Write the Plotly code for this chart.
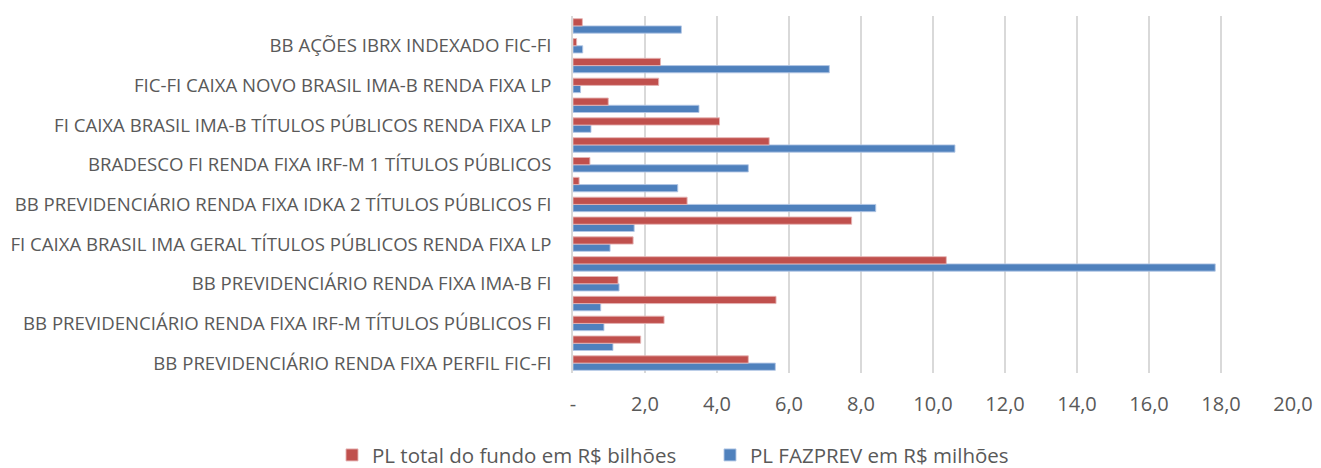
import plotly.graph_objects as go

# Category positions listed bottom-up (index 0 = bottom row)
tick_positions = [0, 2, 4, 6, 8, 10, 12, 14, 16]
tick_labels = [
    "BB PREVIDENCIÁRIO RENDA FIXA PERFIL FIC-FI",
    "BB PREVIDENCIÁRIO RENDA FIXA IRF-M TÍTULOS PÚBLICOS FI",
    "BB PREVIDENCIÁRIO RENDA FIXA IMA-B FI",
    "FI CAIXA BRASIL IMA GERAL TÍTULOS PÚBLICOS RENDA FIXA LP",
    "BB PREVIDENCIÁRIO RENDA FIXA IDKA 2 TÍTULOS PÚBLICOS FI",
    "BRADESCO FI RENDA FIXA IRF-M 1 TÍTULOS PÚBLICOS",
    "FI CAIXA BRASIL IMA-B TÍTULOS PÚBLICOS RENDA FIXA LP",
    "FIC-FI CAIXA NOVO BRASIL IMA-B RENDA FIXA LP",
    "BB AÇÕES IBRX INDEXADO FIC-FI",
]
positions = list(range(18))

pl_total_bilhoes = [4.87, 1.88, 2.53, 5.64, 1.25, 10.37, 1.67, 7.74, 3.17,
                    0.17, 0.47, 5.45, 4.07, 0.98, 2.38, 2.43, 0.10, 0.26]
pl_fazprev_milhoes = [5.62, 1.11, 0.86, 0.77, 1.28, 17.84, 1.03, 1.70, 8.41,
                      2.91, 4.87, 10.61, 0.50, 3.50, 0.21, 7.12, 0.27, 3.01]

x_tick_vals = [0, 2, 4, 6, 8, 10, 12, 14, 16, 18, 20]
x_tick_text = ["-", "2,0", "4,0", "6,0", "8,0", "10,0", "12,0", "14,0", "16,0", "18,0", "20,0"]

RED = "#C0504D"
BLUE = "#4F81BD"
FONT = "Open Sans"
GRAY = "#595959"
# page body has an 8px margin, so the figure is sized to fit the window without scrolling
W, H = 1313, 460

fig = go.Figure()
fig.add_trace(go.Bar(
    y=positions, x=pl_fazprev_milhoes, orientation="h",
    name="PL FAZPREV em R$ milhões", legend="legend2",
    marker=dict(color=BLUE, line=dict(color="rgba(180,200,230,0.9)", width=1)),
))
fig.add_trace(go.Bar(
    y=positions, x=pl_total_bilhoes, orientation="h",
    name="PL total do fundo em R$ bilhões", legend="legend",
    marker=dict(color=RED, line=dict(color="rgba(230,180,180,0.9)", width=1)),
))

legend_common = dict(
    orientation="h", xref="container", yref="container",
    xanchor="left", yanchor="middle", y=0.028,
    font=dict(family=FONT, size=20.5, color=GRAY),
    bgcolor="rgba(0,0,0,0)", itemwidth=30,
)

fig.update_layout(
    width=W, height=H,
    margin=dict(l=565, r=22, t=8, b=95),
    paper_bgcolor="white", plot_bgcolor="white",
    barmode="group", bargap=0.27, bargroupgap=0,
    font=dict(family=FONT, size=16, color=GRAY),
    showlegend=True,
    legend=dict(x=324 / W, **legend_common),
    legend2=dict(x=702 / W, **legend_common),
)
fig.update_xaxes(
    range=[0, 20], tickvals=x_tick_vals, ticktext=x_tick_text,
    showgrid=True, gridcolor="#D9D9D9", gridwidth=1.5,
    zeroline=False, showline=False, ticks="",
    ticklabelstandoff=17, tickfont=dict(size=20, color=GRAY),
)
fig.update_yaxes(
    range=[-0.5, 17.5], tickvals=tick_positions, ticktext=tick_labels,
    showgrid=False, zeroline=False, showline=True, linecolor="#D9D9D9", linewidth=1.5,
    ticks="", automargin=False, ticklabelstandoff=16,
    tickfont=dict(size=18.6, color=GRAY),
)

fig.write_html("out.html")
